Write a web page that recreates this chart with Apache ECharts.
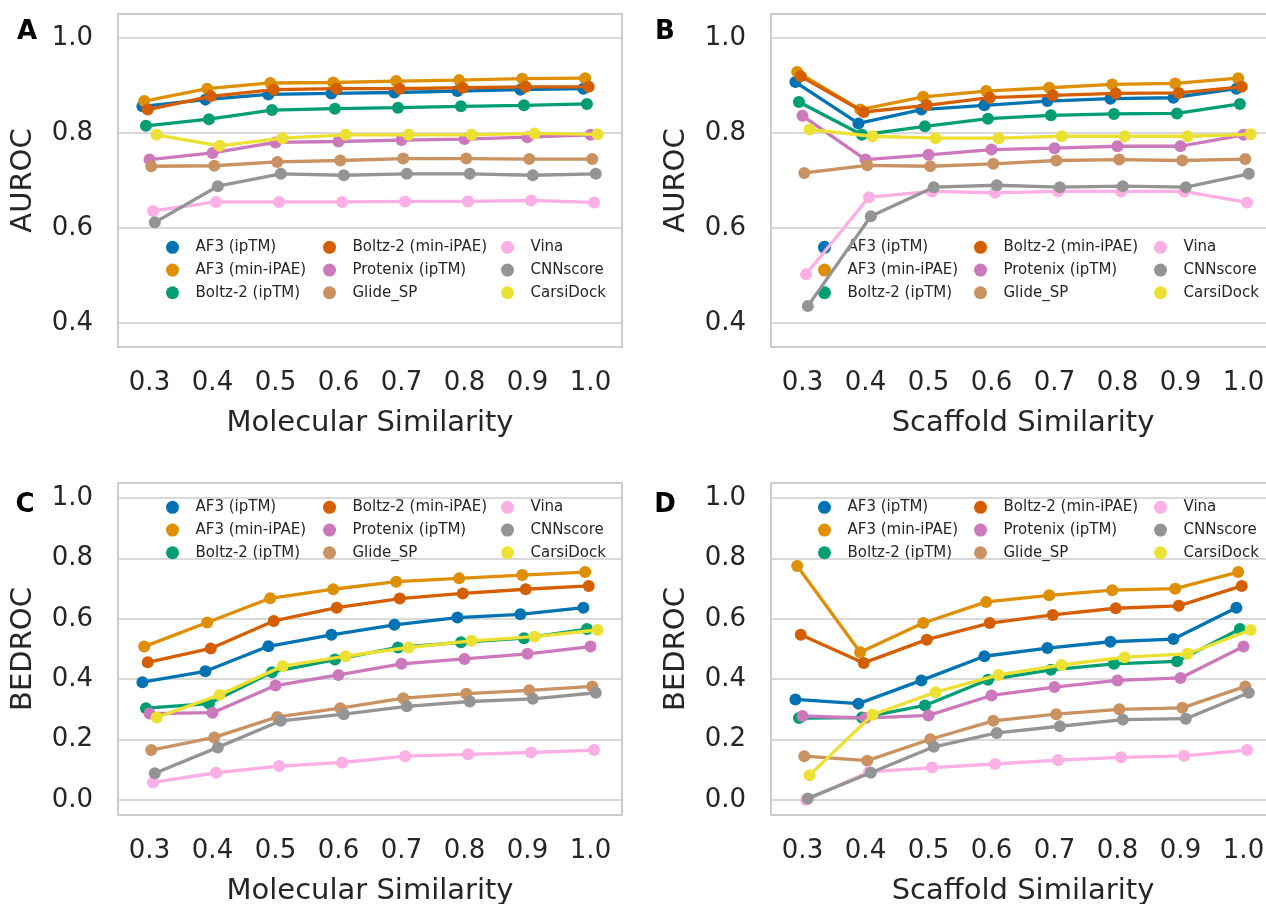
<!DOCTYPE html>
<html>
<head>
<meta charset="utf-8">
<title>AUROC / BEDROC vs similarity threshold</title>
<script src="https://cdn.jsdelivr.net/npm/echarts@6/dist/echarts.min.js"></script>
<style>
  html, body { margin: 0; padding: 0; background: #ffffff; }
  #chart { width: 1266px; height: 904px; }
</style>
</head>
<body>
<div id="chart"></div>
<script>
// ---- categories and tick labels ----
const similarity = ['0.3', '0.4', '0.5', '0.6', '0.7', '0.8', '0.9', '1.0'];
const methods = ['AF3 (ipTM)', 'AF3 (min-iPAE)', 'Boltz-2 (ipTM)', 'Boltz-2 (min-iPAE)',
                 'Protenix (ipTM)', 'Glide_SP', 'Vina', 'CNNscore', 'CarsiDock'];
const aurocTicks = [0.4, 0.6, 0.8, 1.0];
const bedrocTicks = [0.0, 0.2, 0.4, 0.6, 0.8, 1.0];

// ---- A: AUROC vs molecular similarity ----
const aurocMol_af3Iptm    = [0.856, 0.870, 0.881, 0.883, 0.885, 0.888, 0.891, 0.893];
const aurocMol_af3Ipae    = [0.867, 0.893, 0.905, 0.906, 0.909, 0.911, 0.914, 0.915];
const aurocMol_boltzIptm  = [0.815, 0.829, 0.848, 0.851, 0.853, 0.856, 0.858, 0.861];
const aurocMol_boltzIpae  = [0.849, 0.877, 0.891, 0.893, 0.893, 0.895, 0.897, 0.897];
const aurocMol_protenix   = [0.744, 0.758, 0.780, 0.782, 0.785, 0.787, 0.791, 0.796];
const aurocMol_glide      = [0.730, 0.731, 0.739, 0.742, 0.746, 0.746, 0.745, 0.745];
const aurocMol_vina       = [0.636, 0.655, 0.655, 0.655, 0.656, 0.656, 0.658, 0.654];
const aurocMol_cnn        = [0.612, 0.688, 0.714, 0.711, 0.714, 0.714, 0.711, 0.714];
const aurocMol_carsi      = [0.796, 0.773, 0.789, 0.796, 0.796, 0.796, 0.799, 0.797];

// ---- B: AUROC vs scaffold similarity ----
const aurocScaf_af3Iptm   = [0.907, 0.820, 0.849, 0.858, 0.867, 0.872, 0.874, 0.893];
const aurocScaf_af3Ipae   = [0.928, 0.849, 0.876, 0.888, 0.895, 0.902, 0.904, 0.915];
const aurocScaf_boltzIptm = [0.865, 0.796, 0.814, 0.830, 0.837, 0.840, 0.841, 0.861];
const aurocScaf_boltzIpae = [0.919, 0.844, 0.858, 0.874, 0.879, 0.883, 0.884, 0.897];
const aurocScaf_protenix  = [0.836, 0.744, 0.754, 0.765, 0.768, 0.772, 0.772, 0.796];
const aurocScaf_glide     = [0.716, 0.732, 0.730, 0.735, 0.742, 0.744, 0.742, 0.745];
const aurocScaf_vina      = [0.503, 0.665, 0.677, 0.674, 0.677, 0.677, 0.677, 0.654];
const aurocScaf_cnn       = [0.436, 0.625, 0.686, 0.690, 0.686, 0.688, 0.686, 0.714];
const aurocScaf_carsi     = [0.807, 0.793, 0.789, 0.789, 0.793, 0.793, 0.793, 0.797];

// ---- C: BEDROC vs molecular similarity ----
const bedrocMol_af3Iptm   = [0.390, 0.426, 0.509, 0.547, 0.580, 0.604, 0.615, 0.637];
const bedrocMol_af3Ipae   = [0.508, 0.588, 0.668, 0.698, 0.723, 0.734, 0.745, 0.755];
const bedrocMol_boltzIptm = [0.304, 0.319, 0.423, 0.465, 0.505, 0.522, 0.536, 0.566];
const bedrocMol_boltzIpae = [0.456, 0.502, 0.593, 0.637, 0.667, 0.684, 0.698, 0.709];
const bedrocMol_protenix  = [0.286, 0.289, 0.379, 0.414, 0.451, 0.467, 0.484, 0.508];
const bedrocMol_glide     = [0.165, 0.207, 0.275, 0.304, 0.337, 0.352, 0.363, 0.376];
const bedrocMol_vina      = [0.058, 0.090, 0.112, 0.124, 0.145, 0.151, 0.157, 0.165];
const bedrocMol_cnn       = [0.088, 0.174, 0.262, 0.284, 0.310, 0.326, 0.335, 0.355];
const bedrocMol_carsi     = [0.273, 0.348, 0.443, 0.476, 0.505, 0.527, 0.541, 0.563];

// ---- D: BEDROC vs scaffold similarity ----
const bedrocScaf_af3Iptm   = [0.333, 0.319, 0.396, 0.476, 0.503, 0.524, 0.533, 0.637];
const bedrocScaf_af3Ipae   = [0.775, 0.489, 0.586, 0.656, 0.678, 0.695, 0.700, 0.755];
const bedrocScaf_boltzIptm = [0.271, 0.273, 0.313, 0.398, 0.431, 0.451, 0.459, 0.566];
const bedrocScaf_boltzIpae = [0.547, 0.454, 0.531, 0.586, 0.613, 0.635, 0.643, 0.709];
const bedrocScaf_protenix  = [0.278, 0.271, 0.280, 0.346, 0.374, 0.396, 0.404, 0.508];
const bedrocScaf_glide     = [0.145, 0.130, 0.201, 0.262, 0.284, 0.300, 0.305, 0.376];
const bedrocScaf_vina      = [0.000, 0.093, 0.107, 0.119, 0.132, 0.141, 0.146, 0.165];
const bedrocScaf_cnn       = [0.005, 0.090, 0.176, 0.222, 0.244, 0.266, 0.269, 0.355];
const bedrocScaf_carsi     = [0.082, 0.282, 0.357, 0.414, 0.447, 0.473, 0.484, 0.563];

// ---- styling ----
const palette = ['#0173b2', '#de8f05', '#029e73', '#d55e00', '#cc78bc',
                 '#ca9161', '#fbafe4', '#949494', '#ece133'];
const FONT = 'DejaVu Sans';
const INK = '#262626';
const RULE = '#cccccc';

const panels = [
  { letter: 'A', series: [aurocMol_af3Iptm, aurocMol_af3Ipae, aurocMol_boltzIptm, aurocMol_boltzIpae,
      aurocMol_protenix, aurocMol_glide, aurocMol_vina, aurocMol_cnn, aurocMol_carsi],
    yName: 'AUROC', xName: 'Molecular Similarity', ticks: aurocTicks, yMin: 0.35, yMax: 1.05,
    box: { left: 118, top: 14, width: 504, height: 333 }, letterPos: [27, 32],
    legendX: [166, 323, 501], legendTop: 236 },
  { letter: 'B', series: [aurocScaf_af3Iptm, aurocScaf_af3Ipae, aurocScaf_boltzIptm, aurocScaf_boltzIpae,
      aurocScaf_protenix, aurocScaf_glide, aurocScaf_vina, aurocScaf_cnn, aurocScaf_carsi],
    yName: 'AUROC', xName: 'Scaffold Similarity', ticks: aurocTicks, yMin: 0.35, yMax: 1.05,
    box: { left: 771, top: 14, width: 504, height: 333 }, letterPos: [665, 32],
    legendX: [818, 974, 1154], legendTop: 236 },
  { letter: 'C', series: [bedrocMol_af3Iptm, bedrocMol_af3Ipae, bedrocMol_boltzIptm, bedrocMol_boltzIpae,
      bedrocMol_protenix, bedrocMol_glide, bedrocMol_vina, bedrocMol_cnn, bedrocMol_carsi],
    yName: 'BEDROC', xName: 'Molecular Similarity', ticks: bedrocTicks, yMin: -0.05, yMax: 1.05,
    box: { left: 118, top: 483, width: 504, height: 332 }, letterPos: [25, 505],
    legendX: [166, 323, 501], legendTop: 496 },
  { letter: 'D', series: [bedrocScaf_af3Iptm, bedrocScaf_af3Ipae, bedrocScaf_boltzIptm, bedrocScaf_boltzIpae,
      bedrocScaf_protenix, bedrocScaf_glide, bedrocScaf_vina, bedrocScaf_cnn, bedrocScaf_carsi],
    yName: 'BEDROC', xName: 'Scaffold Similarity', ticks: bedrocTicks, yMin: -0.05, yMax: 1.05,
    box: { left: 771, top: 483, width: 504, height: 332 }, letterPos: [665, 505],
    legendX: [818, 974, 1154], legendTop: 496 }
];

// points of each method are shifted sideways inside a category so they don't overlap
const dodge = 0.225;
const offsetOf = i => -dodge / 2 + i * dodge / (methods.length - 1);

const grid = [], xAxis = [], yAxis = [], series = [], legend = [], graphic = [];

panels.forEach((p, pi) => {
  grid.push(Object.assign({
    show: true, borderColor: RULE, borderWidth: 2, backgroundColor: '#ffffff',
    containLabel: false, outerBoundsMode: 'none'
  }, p.box));

  // category axis carries the tick labels
  xAxis.push({
    type: 'category', gridIndex: pi, data: similarity, boundaryGap: true,
    name: p.xName, nameLocation: 'middle', nameGap: 62, nameMoveOverlap: false,
    nameTextStyle: { fontFamily: FONT, fontSize: 29, color: INK },
    axisLine: { show: false }, axisTick: { show: false }, splitLine: { show: false },
    axisLabel: { fontFamily: FONT, fontSize: 26, color: INK, margin: 23, interval: 0 }
  });
  // matching numeric axis used to place the side-shifted points
  xAxis.push({
    type: 'value', gridIndex: pi, min: -0.5, max: similarity.length - 0.5, show: false,
    splitLine: { show: false }
  });

  yAxis.push({
    type: 'value', gridIndex: pi, min: p.yMin, max: p.yMax,
    name: p.yName, nameLocation: 'middle', nameGap: 80, nameRotate: 90, nameMoveOverlap: false,
    nameTextStyle: { fontFamily: FONT, fontSize: 29, color: INK },
    axisLine: { show: false },
    axisTick: { show: false, customValues: p.ticks },
    axisLabel: { customValues: p.ticks, fontFamily: FONT, fontSize: 26, color: INK, margin: 25,
                 formatter: v => Number(v).toFixed(1) },
    splitLine: { show: true, lineStyle: { color: RULE, width: 1.6 } }
  });

  p.series.forEach((vals, i) => {
    series.push({
      type: 'line', name: methods[i], xAxisIndex: pi * 2 + 1, yAxisIndex: pi,
      data: vals.map((v, j) => [j + offsetOf(i), v]),
      color: palette[i],
      lineStyle: { width: 3.3, color: palette[i] },
      itemStyle: { color: palette[i] },
      symbol: 'circle', symbolSize: 12, showSymbol: true,
      z: 3 + i, silent: true, animation: false,
      emphasis: { disabled: true }
    });
  });

  // three legend columns per panel, filled top to bottom
  p.legendX.forEach((lx, c) => {
    legend.push({
      orient: 'vertical', left: lx, top: p.legendTop, padding: 0,
      data: methods.slice(c * 3, c * 3 + 3),
      icon: 'circle', itemWidth: 36, itemHeight: 13, itemGap: 0,
      selectedMode: false,
      textStyle: { fontFamily: FONT, fontSize: 15, color: INK, lineHeight: 22.7 }
    });
  });

  graphic.push({
    type: 'text', x: p.letterPos[0], y: p.letterPos[1],
    style: { text: p.letter, font: 'bold 26px "DejaVu Sans"', fill: '#000000',
             align: 'center', verticalAlign: 'middle' }
  });
});

const chart = echarts.init(document.getElementById('chart'), null, { renderer: 'canvas' });
chart.setOption({
  backgroundColor: '#ffffff',
  animation: false,
  textStyle: { fontFamily: FONT },
  grid, xAxis, yAxis, series, legend, graphic
});
</script>
</body>
</html>
